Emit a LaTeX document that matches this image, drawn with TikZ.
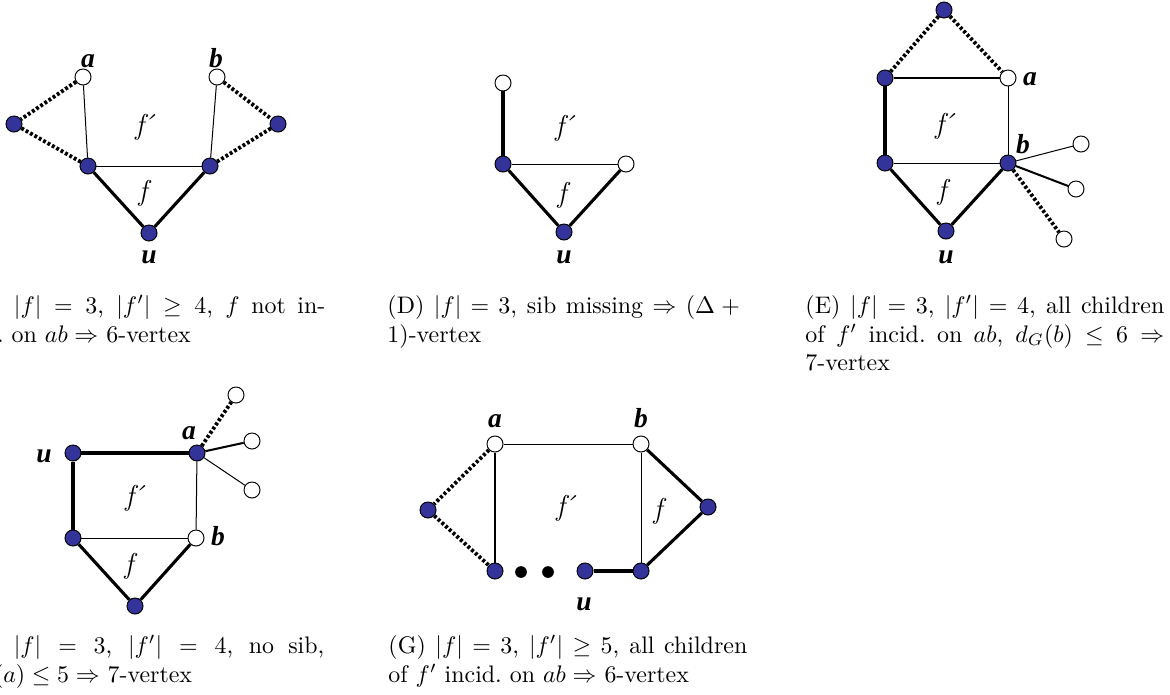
\documentclass[tikz,border=0pt]{standalone}
\usepackage{fontspec}
\newfontfamily\lblbi{Liberation Serif Bold Italic}
\definecolor{nodeblue}{RGB}{51,51,153}
\newcommand{\fprm}{f\kern-1.6pt´}
\begin{document}
\begin{tikzpicture}[x=0.418pt,y=-0.418pt,
 bv/.style={circle,draw=black,line width=0.4pt,fill=nodeblue,minimum size=6.7pt,inner sep=0pt},
 wv/.style={circle,draw=black,line width=0.4pt,fill=white,minimum size=6.7pt,inner sep=0pt},
 kv/.style={circle,fill=black,minimum size=4.9pt,inner sep=0pt},
 thinE/.style={line width=0.42pt},
 thickE/.style={line width=1.3pt},
 medE/.style={line width=0.85pt},
 dotE/.style={line width=1.6pt,dash pattern=on 1.2pt off 0.9pt},
 vl/.style={font=\lblbi\fontsize{11.5}{13}\selectfont,inner sep=0pt,anchor=base},
 fl/.style={font=\itshape\fontsize{12}{14}\selectfont,inner sep=0pt,anchor=base},
 capbox/.style={anchor=north west,text width=150pt,align=justify,inner sep=0pt,font=\fontsize{10}{12}\selectfont}
]
\useasboundingbox (0,0) rectangle (1170,694);
\clip (0,0) rectangle (1170,694);
\fill[white] (0,0) rectangle (1170,694);

% ---------- Panel C ----------
\node[wv] (ca) at (83,77) {};
\node[wv] (cb) at (217,77) {};
\node[bv] (cl) at (14,124) {};
\node[bv] (cr) at (278,124) {};
\node[bv] (cm) at (88,166) {};
\node[bv] (cn) at (210,166) {};
\node[bv] (cu) at (149,233) {};
\draw[thinE] (ca) -- (cm);
\draw[thinE] (cb) -- (cn);
\draw[thinE] (cm) -- (cn);
\draw[thickE] (cm) -- (cu);
\draw[thickE] (cn) -- (cu);
\draw[dotE] (ca) -- (cl);
\draw[dotE] (cl) -- (cm);
\draw[dotE] (cb) -- (cr);
\draw[dotE] (cr) -- (cn);
\node[vl] (cal) at (88,67) {a};
\node[vl] (cbl) at (216,67) {b};
\node[vl] (cul) at (149,263) {u};
\node[fl] (cfp) at (145,134) {\fprm};
\node[fl] (cf) at (143,200) {f};
\node[capbox] (capc) at (-34,295) {(C) $|f|=3$, $|f'|\geq 4$, $f$ not in-\linebreak cid.\ on $ab\Rightarrow$ 6-vertex};

% ---------- Panel D ----------
\node[wv] (dt) at (503,83) {};
\node[bv] (dl) at (503,164) {};
\node[wv] (dr) at (626,164) {};
\node[bv] (du) at (564,232) {};
\draw[thickE] (dt) -- (dl);
\draw[thinE] (dl) -- (dr);
\draw[thickE] (dl) -- (du);
\draw[thickE] (dr) -- (du);
\node[vl] (dul) at (564,263) {u};
\node[fl] (dfp) at (565,135) {\fprm};
\node[fl] (df) at (562,202) {f};
\node[capbox] (capd) at (387,295) {(D) $|f|=3$, sib missing $\Rightarrow(\Delta+{}$\linebreak $1)$-vertex};

% ---------- Panel E ----------
\node[bv] (et) at (944,10) {};
\node[bv] (elt) at (885,78) {};
\node[wv] (ea) at (1008,78) {};
\node[bv] (elb) at (885,163) {};
\node[bv] (eb) at (1008,163) {};
\node[bv] (eu) at (946,231) {};
\node[wv] (e1) at (1081,144) {};
\node[wv] (e2) at (1076,189) {};
\node[wv] (e3) at (1064,239) {};
\draw[dotE] (et) -- (elt);
\draw[dotE] (et) -- (ea);
\draw[medE] (elt) -- (ea);
\draw[thickE] (elt) -- (elb);
\draw[thinE] (ea) -- (eb);
\draw[thinE] (elb) -- (eb);
\draw[thickE] (elb) -- (eu);
\draw[thickE] (eb) -- (eu);
\draw[thinE] (eb) -- (e1);
\draw[medE] (eb) -- (e2);
\draw[dotE] (eb) -- (e3);
\node[vl] (eal) at (1030,85) {a};
\node[vl] (ebl) at (1023,153) {b};
\node[vl] (eul) at (946,263) {u};
\node[fl] (efp) at (945,133) {\fprm};
\node[fl] (ef) at (942,199) {f};
\node[capbox] (cape) at (805,295) {(E) $|f|=3$, $|f'|=4$, all children\linebreak of $f'$ incid.\ on $ab$, $d_G(b)\leq 6\Rightarrow$\linebreak 7-vertex};

% ---------- Panel F ----------
\node[bv] (fu) at (73,453) {};
\node[bv] (fa) at (197,453) {};
\node[wv] (f1) at (236,395) {};
\node[wv] (f2) at (252,441) {};
\node[wv] (f3) at (252,490) {};
\node[bv] (flb) at (73,538) {};
\node[wv] (fb) at (196,538) {};
\node[bv] (fbot) at (135,606) {};
\draw[thickE] (fu) -- (fa);
\draw[thickE] (fu) -- (flb);
\draw[thinE] (fa) -- (fb);
\draw[thinE] (flb) -- (fb);
\draw[thickE] (flb) -- (fbot);
\draw[thickE] (fb) -- (fbot);
\draw[dotE] (fa) -- (f1);
\draw[medE] (fa) -- (f2);
\draw[thinE] (fa) -- (f3);
\node[vl] (ful) at (44,462) {u};
\node[vl] (fal) at (189,439) {a};
\node[vl] (fbl) at (218,545) {b};
\node[fl] (ffp) at (135,505) {\fprm};
\node[fl] (ff) at (129,573) {f};
\node[capbox] (capf) at (-35,635) {(F) $|f|=3$, $|f'|=4$, no sib,\linebreak $d_G(a)\leq 5\Rightarrow$ 7-vertex};

% ---------- Panel G ----------
\node[wv] (ga) at (495,444) {};
\node[wv] (gb) at (641,444) {};
\node[bv] (gl) at (428,510) {};
\node[bv] (gbl) at (495,571) {};
\node[kv] (gd1) at (521,572) {};
\node[kv] (gd2) at (548,572) {};
\node[bv] (gn) at (585,571) {};
\node[bv] (gbr) at (641,571) {};
\node[bv] (gr) at (708,507) {};
\draw[thinE] (ga) -- (gb);
\draw[medE] (ga) -- (gbl);
\draw[thinE] (gb) -- (gbr);
\draw[dotE] (ga) -- (gl);
\draw[dotE] (gl) -- (gbl);
\draw[thickE] (gb) -- (gr);
\draw[thickE] (gr) -- (gbr);
\draw[thickE] (gn) -- (gbr);
\node[vl] (gal) at (495,427) {a};
\node[vl] (gbl2) at (641,427) {b};
\node[vl] (gul) at (584,610) {u};
\node[fl] (gfp) at (566,515) {\fprm};
\node[fl] (gf) at (658,518) {f};
\node[capbox] (capg) at (388,635) {(G) $|f|=3$, $|f'|\geq 5$, all children\linebreak of $f'$ incid.\ on $ab\Rightarrow$ 6-vertex};
\end{tikzpicture}
\end{document}
